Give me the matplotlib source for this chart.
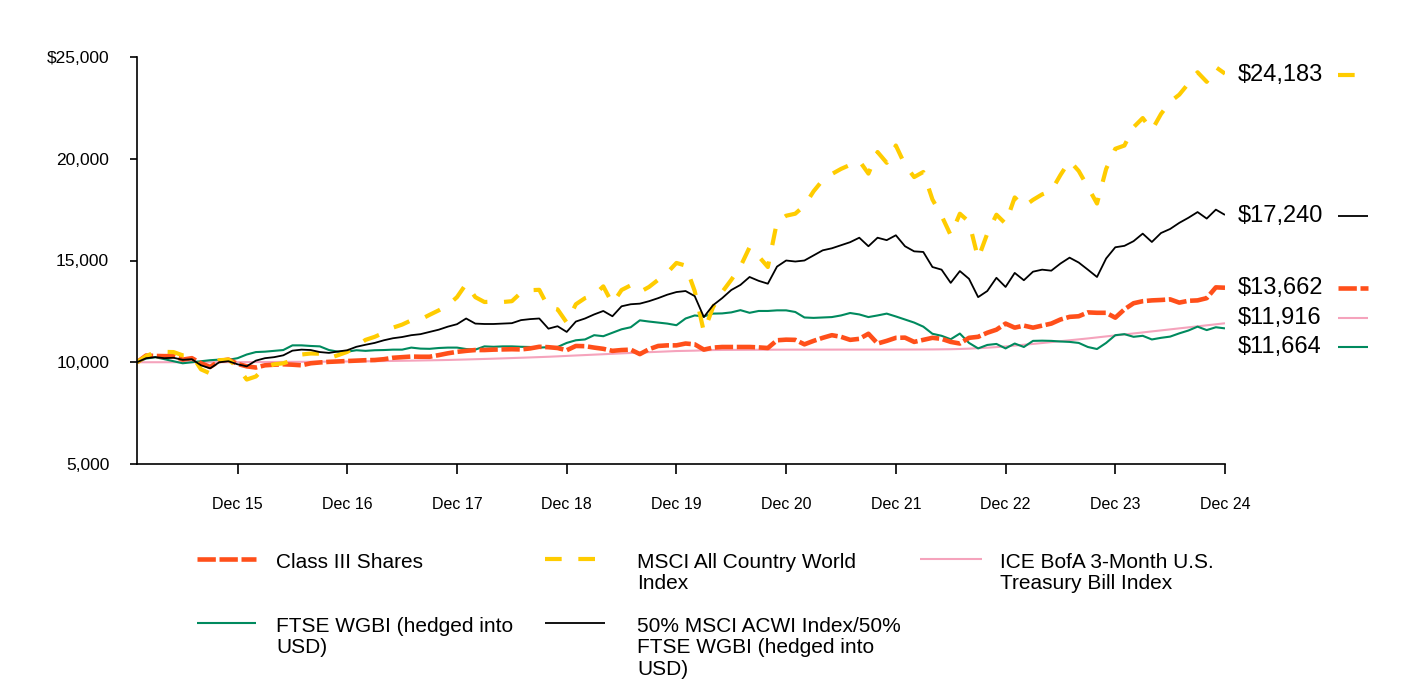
import matplotlib
matplotlib.use("Agg")
import matplotlib.pyplot as plt
from matplotlib.transforms import blended_transform_factory, offset_copy
import numpy as np

plt.rcParams['font.family'] = ['Liberation Sans', 'DejaVu Sans']

# Monthly values, Jan 2015 .. Dec 2024 (120 points)
class_iii = [
    10000, 10330, 10310, 10300, 10300, 10130, 10200, 9950, 9770, 10060, 10130, 9920,
    9800, 9740, 9850, 9880, 9900, 9880, 9850, 9950, 9990, 10020, 10040, 10060,
    10080, 10100, 10110, 10150, 10220, 10250, 10280, 10270, 10270, 10350, 10440, 10510,
    10560, 10600, 10600, 10620, 10630, 10640, 10630, 10680, 10760, 10740, 10700, 10590,
    10800, 10790, 10720, 10660, 10560, 10600, 10620, 10400, 10640, 10800, 10830, 10830,
    10920, 10880, 10620, 10720, 10750, 10750, 10750, 10750, 10730, 10700, 11080, 11110,
    11100, 10880, 11050, 11200, 11330, 11250, 11100, 11150, 11400, 10920, 11050, 11200,
    11210, 11000, 11100, 11200, 11150, 11000, 10920, 11200, 11250, 11450, 11600, 11900,
    11700, 11800, 11700, 11800, 11900, 12100, 12230, 12260, 12450, 12430, 12430, 12190,
    12600, 12900, 13000, 13040, 13060, 13090, 12930, 13020, 13040, 13150, 13680, 13662,
]

msci_acwi = [
    10000, 10300, 10500, 10510, 10500, 10340, 10340, 9650, 9450, 10100, 10130, 9770,
    9150, 9300, 9750, 9900, 9950, 10100, 10380, 10430, 10420, 10200, 10350, 10510,
    10800, 11100, 11250, 11450, 11700, 11850, 12060, 12100, 12330, 12550, 12800, 13200,
    13850, 13200, 12960, 12980, 12960, 13000, 13420, 13540, 13560, 12700, 12600, 11950,
    12850, 13150, 13300, 13730, 12880, 13550, 13780, 13450, 13700, 14050, 14400, 14880,
    14750, 13500, 11500, 12700, 13450, 14050, 14700, 15650, 15200, 14680, 16900, 17200,
    17300, 17700, 18400, 18950, 19250, 19500, 19700, 19900, 19270, 20330, 19800, 20650,
    19700, 19100, 19350, 18000, 17200, 16240, 17300, 16900, 15100, 16320, 17250, 16810,
    18100, 17650, 17980, 18250, 18420, 19200, 19900, 19400, 18610, 17800, 19500, 20490,
    20650, 21550, 22000, 21400, 22200, 22800, 23150, 23700, 24250, 23780, 24500, 24183,
]

tbill = [
    10000, 10000, 10001, 10001, 10002, 10002, 10003, 10003, 10003, 10004, 10004, 10005,
    10007, 10010, 10012, 10015, 10017, 10020, 10022, 10025, 10028, 10031, 10034, 10038,
    10043, 10048, 10053, 10059, 10065, 10072, 10079, 10087, 10095, 10103, 10112, 10124,
    10136, 10149, 10162, 10176, 10191, 10206, 10221, 10237, 10253, 10270, 10290, 10312,
    10333, 10353, 10374, 10394, 10415, 10436, 10456, 10476, 10495, 10513, 10532, 10551,
    10560, 10570, 10585, 10600, 10605, 10608, 10610, 10612, 10614, 10616, 10618, 10619,
    10620, 10620, 10621, 10621, 10621, 10622, 10622, 10622, 10623, 10623, 10623, 10624,
    10625, 10626, 10628, 10630, 10635, 10640, 10652, 10668, 10690, 10715, 10745, 10777,
    10820, 10860, 10900, 10945, 10990, 11035, 11080, 11125, 11170, 11220, 11270, 11318,
    11365, 11415, 11465, 11515, 11565, 11615, 11665, 11715, 11765, 11815, 11865, 11916,
]

ftse_wgbi = [
    10000, 10180, 10250, 10150, 10050, 9950, 10000, 10050, 10100, 10130, 10120, 10200,
    10380, 10500, 10520, 10560, 10600, 10830, 10830, 10800, 10780, 10600, 10520, 10520,
    10590, 10560, 10590, 10600, 10620, 10620, 10720, 10670, 10660, 10700, 10720, 10720,
    10650, 10620, 10780, 10760, 10780, 10780, 10760, 10750, 10720, 10740, 10750, 10950,
    11080, 11120, 11330, 11280, 11450, 11620, 11720, 12060, 12000, 11950, 11900, 11820,
    12150, 12300, 12250, 12390, 12400, 12450, 12560, 12430, 12520, 12520, 12550, 12550,
    12470, 12200, 12180, 12200, 12220, 12300, 12420, 12350, 12220, 12300, 12390, 12250,
    12100, 11950, 11750, 11400, 11300, 11130, 11410, 10950, 10680, 10850, 10900, 10680,
    10920, 10750, 11050, 11060, 11050, 11020, 11000, 10950, 10750, 10650, 10950, 11330,
    11380, 11250, 11300, 11120, 11200, 11260, 11420, 11560, 11750, 11580, 11720, 11664,
]

blend_50_50 = [
    10000, 10200, 10250, 10200, 10220, 10120, 10150, 9850, 9700, 10000, 10050, 9900,
    9800, 10080, 10200, 10250, 10340, 10570, 10620, 10600, 10500, 10460, 10530, 10590,
    10760, 10860, 10950, 11080, 11180, 11240, 11330, 11380, 11490, 11600, 11750, 11870,
    12150, 11900, 11880, 11880, 11900, 11920, 12070, 12120, 12150, 11650, 11770, 11490,
    12000, 12150, 12350, 12520, 12260, 12750, 12850, 12880, 13000, 13150, 13320, 13450,
    13500, 13250, 12220, 12800, 13150, 13550, 13800, 14190, 14000, 13860, 14700, 15000,
    14950, 15000, 15250, 15500, 15600, 15750, 15900, 16120, 15700, 16120, 16000, 16240,
    15700, 15450, 15420, 14680, 14550, 13900, 14480, 14100, 13200, 13500, 14150, 13700,
    14390, 14030, 14450, 14550, 14500, 14850, 15140, 14900, 14550, 14190, 15100, 15650,
    15720, 15950, 16320, 15910, 16350, 16550, 16850, 17100, 17380, 17060, 17500, 17240,
]

tick_labels = ["Dec 15", "Dec 16", "Dec 17", "Dec 18", "Dec 19",
               "Dec 20", "Dec 21", "Dec 22", "Dec 23", "Dec 24"]
y_ticks = [5000, 10000, 15000, 20000, 25000]
y_tick_labels = ["5,000", "10,000", "15,000", "20,000", "$25,000"]

names = {
    'class': "Class III Shares",
    'msci': "MSCI All Country World\nIndex",
    'tbill': "ICE BofA 3-Month U.S.\nTreasury Bill Index",
    'ftse': "FTSE WGBI (hedged into\nUSD)",
    'blend': "50% MSCI ACWI Index/50%\nFTSE WGBI (hedged into\nUSD)",
}

C_ORANGE = '#FF4F1A'
C_YELLOW = '#FFCC00'
C_PINK = '#F5A3BC'
C_GREEN = '#008A5E'
C_BLACK = '#000000'

styles = {
    'class': dict(color=C_ORANGE, lw=3.3, ls=(0, (4, 0.8))),
    'msci': dict(color=C_YELLOW, lw=3.0, ls=(0, (4, 4))),
    'tbill': dict(color=C_PINK, lw=1.5, ls='-'),
    'ftse': dict(color=C_GREEN, lw=1.5, ls='-'),
    'blend': dict(color=C_BLACK, lw=1.3, ls='-'),
}
series = {'class': class_iii, 'msci': msci_acwi, 'tbill': tbill,
          'ftse': ftse_wgbi, 'blend': blend_50_50}

W, H = 1408, 692
fig = plt.figure(figsize=(W / 100, H / 100), dpi=100)
ax = fig.add_axes([137 / W, 1 - 464 / H, (1225 - 137) / W, (464 - 57) / H])

x = np.arange(len(class_iii))
for key in ['tbill', 'ftse', 'class', 'msci', 'blend']:
    st = styles[key]
    ax.plot(x, series[key], color=st['color'], lw=st['lw'], ls=st['ls'],
            solid_capstyle='butt', dash_capstyle='butt')

ax.set_xlim(0, len(class_iii) - 1)
ax.set_ylim(5000, 25000)
ax.set_xticks(np.arange(11, 120, 12))
ax.set_xticklabels(tick_labels)
ax.set_yticks(y_ticks)
ax.set_yticklabels(y_tick_labels)
for s in ['top', 'right']:
    ax.spines[s].set_visible(False)
for s in ['left', 'bottom']:
    ax.spines[s].set_linewidth(1.2)
ax.tick_params(axis='x', length=7, width=1.2, pad=17, labelsize=11.5)
ax.tick_params(axis='y', length=5, width=1.2, pad=15, labelsize=12.5)

# End-value labels with line samples
trans = blended_transform_factory(ax.transAxes, ax.transData)
end_offsets_pt = {'msci': -1.2, 'blend': -0.5, 'class': 0, 'tbill': 3.9, 'ftse': -13.7}
end_texts = {'msci': "$24,183", 'blend': "$17,240", 'class': "$13,662",
             'tbill': "$11,916", 'ftse': "$11,664"}
for key, dy in end_offsets_pt.items():
    yv = series[key][-1]
    ax.annotate(end_texts[key], xy=(1, yv), xycoords=trans,
                xytext=(9.4, dy), textcoords='offset points',
                ha='left', va='center', fontsize=17, annotation_clip=False)
    st = styles[key]
    otrans = offset_copy(trans, fig=fig, x=0, y=dy, units='points')
    ax.plot([1.104, 1.1314], [yv, yv], transform=otrans, clip_on=False,
            color=st['color'], lw=st['lw'], ls=st['ls'],
            solid_capstyle='butt', dash_capstyle='butt')

# Manual legend below the plot
legend_items = [
    ('class', 197, 256, 276, 559),
    ('msci', 545, 598, 637, 559),
    ('tbill', 920, 982, 1000, 559),
    ('ftse', 197, 256, 276, 623),
    ('blend', 545, 605, 637, 623),
]
for key, x0, x1, tx, py in legend_items:
    st = styles[key]
    fig.add_artist(plt.Line2D([x0 / W, x1 / W], [1 - py / H, 1 - py / H],
                              transform=fig.transFigure, color=st['color'],
                              lw=st['lw'], ls=st['ls'],
                              solid_capstyle='butt', dash_capstyle='butt'))
    fig.text(tx / W, 1 - (py - 6.5) / H, names[key], ha='left', va='top',
             fontsize=15, linespacing=1.17)

fig.savefig('out.png', dpi=100)
